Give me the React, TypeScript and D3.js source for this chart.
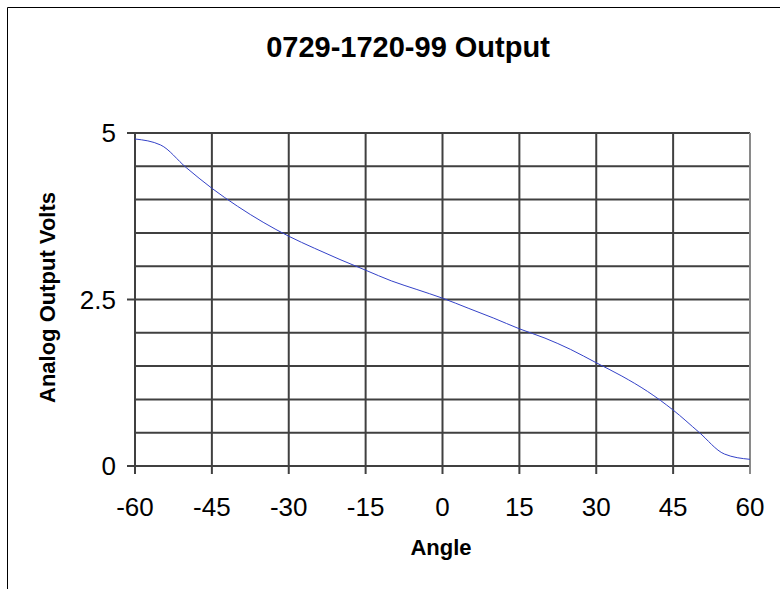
import * as d3 from "d3";

// angle in degrees, output in volts
const angles = [-60, -55, -50, -45, -40, -35, -30, -25, -20, -15, -10, -5, 0, 5, 10, 15, 20, 25, 30, 35, 40, 45, 50, 55, 60];
const volts = [4.91, 4.82, 4.48, 4.17, 3.9, 3.66, 3.45, 3.27, 3.1, 2.94, 2.78, 2.65, 2.52, 2.37, 2.22, 2.06, 1.92, 1.75, 1.55, 1.35, 1.12, 0.84, 0.51, 0.18, 0.1];

const xTicks = [-60, -45, -30, -15, 0, 15, 30, 45, 60];
const yTicks = [0, 2.5, 5];
const yGrid = [0, 0.5, 1, 1.5, 2, 2.5, 3, 3.5, 4, 4.5, 5];

const title = "0729-1720-99 Output";

export default function App() {
  const W = 780;
  const H = 589;
  const plot = { left: 135, right: 750, top: 133, bottom: 466 };

  const x = d3.scaleLinear().domain([-60, 60]).range([plot.left, plot.right]);
  const y = d3.scaleLinear().domain([0, 5]).range([plot.bottom, plot.top]);

  const line = d3
    .line<number>()
    .x((_, i) => x(angles[i]))
    .y((d) => y(d))
    .curve(d3.curveMonotoneX);

  const font = "Arial, 'Liberation Sans', sans-serif";
  const gridColor = "#404040";

  return (
    <svg
      width={W}
      height={H}
      style={{ display: "block", position: "absolute", left: 0, top: 0, background: "#fff" }}
    >
      {/* outer chart border, cut at the right and bottom */}
      <line x1={7.5} y1={7.5} x2={W} y2={7.5} stroke="#000" strokeWidth={1} />
      <line x1={7.5} y1={7.5} x2={7.5} y2={H} stroke="#000" strokeWidth={1} />

      <text x={408} y={57} textAnchor="middle" fontFamily={font} fontWeight="bold" fontSize={29}>
        {title}
      </text>

      {/* horizontal grid */}
      {yGrid.map((v) => (
        <line key={"hy" + v} x1={plot.left} x2={plot.right} y1={y(v)} y2={y(v)} stroke={gridColor} strokeWidth={2} />
      ))}
      {/* vertical grid */}
      {xTicks.map((v) => (
        <line
          key={"vx" + v}
          x1={x(v)}
          x2={x(v)}
          y1={plot.top}
          y2={plot.bottom + 8}
          stroke={v === 60 ? "#8a8a8a" : gridColor}
          strokeWidth={2}
        />
      ))}
      {/* y ticks */}
      {yTicks.map((v) => (
        <line key={"ty" + v} x1={plot.left - 8} x2={plot.left} y1={y(v)} y2={y(v)} stroke={gridColor} strokeWidth={2} />
      ))}

      <path d={line(volts) ?? ""} fill="none" stroke="#3442c8" strokeWidth={1} />

      {xTicks.map((v) => (
        <text key={"lx" + v} x={x(v)} y={516} textAnchor="middle" fontFamily={font} fontSize={26}>
          {v}
        </text>
      ))}
      {yTicks.map((v) => (
        <text
          key={"ly" + v}
          x={116}
          y={y(v)}
          dy="0.35em"
          textAnchor="end"
          fontFamily={font}
          fontSize={26}
        >
          {v}
        </text>
      ))}

      <text x={441} y={555} textAnchor="middle" fontFamily={font} fontWeight="bold" fontSize={22}>
        Angle
      </text>
      <text
        transform={`translate(55, ${(188 + 407) / 2}) rotate(-90)`}
        textAnchor="middle"
        fontFamily={font}
        fontWeight="bold"
        fontSize={22}
      >
        Analog Output Volts
      </text>
    </svg>
  );
}
